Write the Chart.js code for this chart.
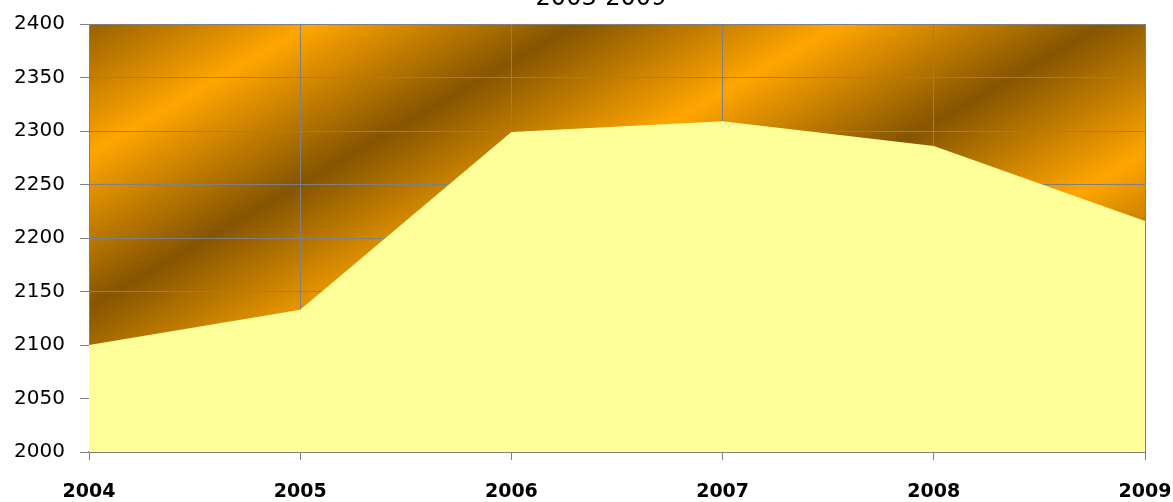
<!DOCTYPE html>
<html>
<head>
<meta charset="utf-8">
<script src="https://cdn.jsdelivr.net/npm/chart.js@4"></script>
<style>
  html, body { margin: 0; padding: 0; background: #fff; }
  #wrap { width: 1173px; height: 502px; position: relative; }
</style>
</head>
<body>
<div id="wrap"><canvas id="areaChart"></canvas></div>
<script>
// chart data
const years = ['2004', '2005', '2006', '2007', '2008', '2009'];
const values = [2100, 2133, 2299, 2309, 2286, 2216];
const titleText = '2003-2009';
const yMin = 2000;
const yMax = 2400;
const yStep = 50;

// striped orange/brown background behind the plot
const stripeBackground = {
    id: 'stripeBackground',
    beforeDraw(chart) {
        const { ctx, chartArea } = chart;
        const nx = 0.502, ny = 0.865; // direction across the stripes
        const p0 = 45, period = 265, count = 4;
        const p1 = p0 + period * count;
        const grad = ctx.createLinearGradient(nx * p0, ny * p0, nx * p1, ny * p1);
        for (let i = 0; i <= count * 2; i++) {
            grad.addColorStop(i / (count * 2), i % 2 === 0 ? '#855500' : '#FFA500');
        }
        ctx.save();
        ctx.fillStyle = grad;
        ctx.fillRect(chartArea.left, chartArea.top, chartArea.right - chartArea.left, chartArea.bottom - chartArea.top);
        ctx.restore();
    }
};

// title sits mostly above the page edge
const cutTitle = {
    id: 'cutTitle',
    afterDraw(chart) {
        const ctx = chart.ctx;
        ctx.save();
        ctx.font = '24px "DejaVu Sans"';
        ctx.fillStyle = '#000';
        ctx.textAlign = 'center';
        ctx.textBaseline = 'alphabetic';
        ctx.fillText(titleText, 601, 5);
        ctx.restore();
    }
};

new Chart(document.getElementById('areaChart'), {
    type: 'line',
    data: {
        labels: years,
        datasets: [{
            data: values,
            backgroundColor: '#FFFF99',
            borderWidth: 0,
            pointRadius: 0,
            fill: 'start',
            tension: 0
        }]
    },
    options: {
        responsive: true,
        maintainAspectRatio: false,
        animation: false,
        layout: { padding: { top: 24, right: 28, left: 0, bottom: 0 } },
        plugins: {
            legend: { display: false },
            tooltip: { enabled: false }
        },
        scales: {
            x: {
                offset: false,
                afterFit(scale) {
                    scale.height = 50;
                    scale.paddingLeft = 0;
                    scale.paddingRight = 0;
                },
                grid: { color: '#808080', lineWidth: 1, tickLength: 8, offset: false },
                border: { color: '#808080', width: 2 },
                ticks: {
                    color: '#000',
                    padding: 21,
                    maxRotation: 0,
                    font: { family: '"DejaVu Sans"', size: 19, weight: 'bold' }
                }
            },
            y: {
                min: yMin,
                max: yMax,
                afterFit(scale) {
                    scale.width = 89;
                    scale.paddingTop = 0;
                    scale.paddingBottom = 0;
                },
                grid: { color: '#808080', lineWidth: 1, tickLength: 9 },
                border: { color: '#808080', width: 1 },
                ticks: {
                    stepSize: yStep,
                    color: '#000',
                    padding: 15,
                    font: { family: '"DejaVu Sans"', size: 20 },
                    callback: (v) => String(v)
                }
            }
        }
    },
    plugins: [stripeBackground, cutTitle]
});
</script>
</body>
</html>
